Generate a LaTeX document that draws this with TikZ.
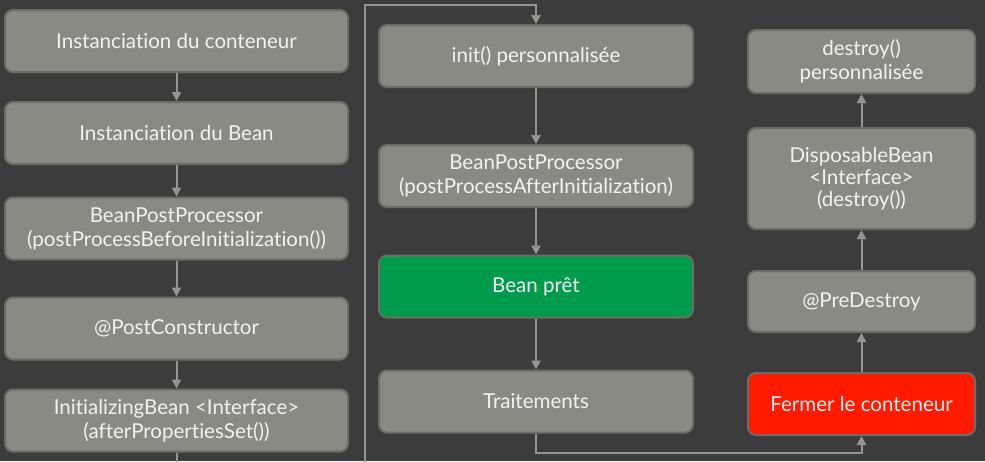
\documentclass[tikz,border=0pt]{standalone}
\usepackage{fontspec}
\setmainfont{Lato}[Ligatures={NoCommon}]
\usetikzlibrary{arrows.meta}
\definecolor{bg}{HTML}{3C3C3C}
\definecolor{boxfill}{HTML}{8A8A85}
\definecolor{boxline}{HTML}{6C6C68}
\definecolor{txt}{HTML}{F2F2F2}
\definecolor{conn}{HTML}{959593}
\definecolor{green}{HTML}{009B4C}
\definecolor{redbox}{HTML}{FF1A00}
\def\px{0.75pt}
\tikzset{
  box/.style={draw=boxline, line width=2*\px, fill=boxfill, rounded corners=8*\px,
    text=txt, align=center, inner sep=0pt,
    font=\fontsize{15.4pt}{18pt}\selectfont},
  colA/.style={box, minimum width=343*\px, minimum height=62*\px},
  colB/.style={box, minimum width=314*\px, minimum height=62*\px},
  colC/.style={box, minimum width=227*\px, minimum height=62*\px},
  conn/.style={draw=conn, line width=2*\px, -{Triangle[width=9*\px,length=9*\px]}}
}
\begin{document}
\begin{tikzpicture}[x=0.75pt,y=-0.75pt]
\fill[bg] (0,0) rectangle (985,461);
\useasboundingbox (0,0) rectangle (985,461);
\clip (0,0) rectangle (985,461);
% column 1
\node[colA] (b1) at (176.5,41) {Instanciation du conteneur};
\node[colA] (b2) at (176.5,133) {Instanciation du Bean};
\node[colA] (b3) at (176.5,228.5) {BeanPostProcessor\\(postProcessBeforeInitialization())};
\node[colA] (b4) at (176.5,328.5) {@PostConstructor};
\node[colA] (b5) at (176.5,420.5) {InitializingBean <Interface>\\(afterPropertiesSet())};
% column 2
\node[colB] (c1) at (536,56) {init() personnalisée};
\node[colB] (c2) at (536,176) {BeanPostProcessor\\(postProcessAfterInitialization)};
\node[colB, fill=green] (c3) at (536,286.5) {Bean prêt};
\node[colB] (c4) at (536,401.5) {Traitements};
% column 3
\node[colC, minimum height=63*\px] (d1) at (861.5,61.5) {destroy()\\personnalisée};
\node[colC, minimum height=101*\px, font=\fontsize{15.4pt}{16.5pt}\selectfont] (d2) at (861.5,178.5) {DisposableBean\\<Interface>\\(destroy())};
\node[colC, minimum height=61*\px] (d3) at (861.5,301.5) {@PreDestroy};
\node[colC, fill=redbox] (d4) at (861.5,404) {Fermer le conteneur};
% connectors
\coordinate (lowA) at (176.5,480);
\coordinate (lowB) at (365,480);
\coordinate (top) at (365,5);
\draw[conn] (b1) -- (b2);
\draw[conn] (b2) -- (b3);
\draw[conn] (b3) -- (b4);
\draw[conn] (b4) -- (b5);
\draw[conn] (b5.south) -- (lowA) -- (lowB) -- (top) -| (c1.north);
\draw[conn] (c1) -- (c2);
\draw[conn] (c2) -- (c3);
\draw[conn] (c3) -- (c4);
\coordinate (botr) at (536,453);
\draw[conn] (c4.south) -- (botr) -| (d4.south);
\draw[conn] (d4) -- (d3);
\draw[conn] (d3) -- (d2);
\draw[conn] (d2) -- (d1);
\end{tikzpicture}
\end{document}
